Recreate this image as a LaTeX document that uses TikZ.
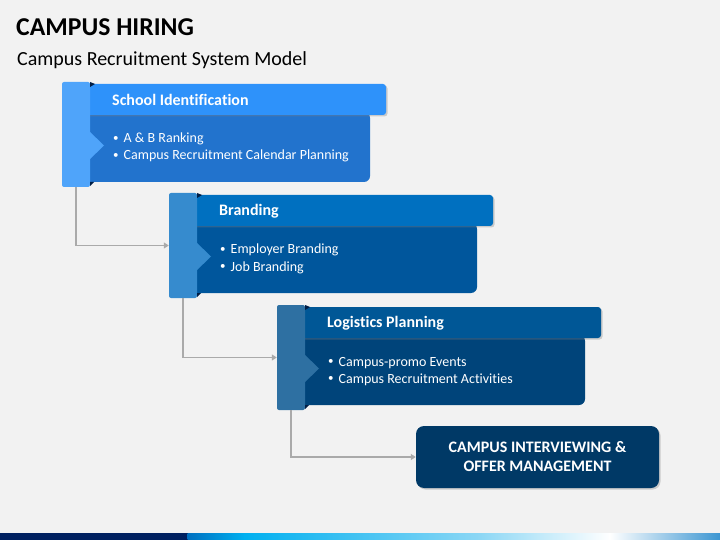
\documentclass[tikz,border=0pt]{standalone}
\usepackage{fontspec}
\setmainfont[Ligatures=CommonOff]{Carlito}
\usetikzlibrary{shadows,arrows.meta}
\definecolor{bg}{RGB}{242,242,242}
\definecolor{tabA}{RGB}{79,164,250}
\definecolor{headA}{RGB}{46,146,250}
\definecolor{bodyA}{RGB}{34,115,205}
\definecolor{tabB}{RGB}{54,139,206}
\definecolor{headB}{RGB}{0,112,192}
\definecolor{bodyB}{RGB}{0,86,156}
\definecolor{tabC}{RGB}{46,112,162}
\definecolor{headC}{RGB}{0,87,150}
\definecolor{bodyC}{RGB}{0,68,122}
\definecolor{finalc}{RGB}{0,57,102}
\definecolor{navyc}{RGB}{0,32,96}
\definecolor{connc}{RGB}{170,170,170}
\definecolor{cornc}{RGB}{0,30,70}
\definecolor{barA}{RGB}{0,112,192}
\definecolor{barB}{RGB}{0,176,240}
\definecolor{barC}{RGB}{140,215,245}
\definecolor{barD}{RGB}{60,150,210}
\newcommand\smallbul{{\fontsize{11}{12}\selectfont\raisebox{1.3pt}{\textbullet}}\hspace{5pt}}
\tikzset{
  tabbox/.style={rectangle, minimum width=28pt, minimum height=105pt, inner sep=0pt, rounded corners=2pt},
  headbar/.style={drop shadow={shadow xshift=1.5pt, shadow yshift=-1.5pt, opacity=0.35}},
  headtxt/.style={anchor=west, inner sep=0pt, text=white, font=\bfseries\fontsize{16}{19}\selectfont},
  bultxt/.style={anchor=base west, inner sep=0pt, text=white, font=\fontsize{14}{17}\selectfont},
  conn/.style={draw=connc, line width=1.2pt, -{Triangle[width=6pt,length=5pt]}},
  finalbox/.style={rectangle, rounded corners=8pt, fill=finalc, minimum width=243pt, minimum height=62pt, text=white, align=center, font=\bfseries\fontsize{16}{19}\selectfont, drop shadow={shadow xshift=1.5pt, shadow yshift=-1.5pt, opacity=0.35}}
}
% #1 dx, #2 dy, #3 tab colour, #4 header colour, #5 body colour, #6 id, #7 header, #8 bullet 1, #9 bullet 2
\newcommand\drawstage[9]{%
\begin{scope}[shift={(#1,#2)}]
  \fill[#5, rounded corners=6pt] (80,112) rectangle (370,182);
  \fill[#4, rounded corners=3pt, headbar] (80,84) rectangle (386,115);
  \node[tabbox, fill=#3] (tab#6) at (76,134.5) {};
  \fill[#3] (89,131) -- (104,145.5) -- (89,160) -- cycle;
  \fill[cornc] (90,82) -- (95,84) -- (90,87) -- cycle;
  \fill[cornc] (90,182) -- (94,182) -- (90,186) -- cycle;
  \node[headtxt] (h#6) at (112,100) {#7};
  \node[bultxt] (b#6a) at (113,143) {\smallbul#8};
  \node[bultxt] (b#6b) at (113,160) {\smallbul#9};
\end{scope}}
\begin{document}
\begin{tikzpicture}[x=1pt,y=-1pt]
\fill[bg] (0,0) rectangle (720,540);
\useasboundingbox (0,0) rectangle (720,540);
\node[anchor=base west, inner sep=0pt, font=\bfseries\fontsize{25.7}{30}\selectfont] (title) at (16,36) {CAMPUS HIRING};
\node[anchor=base west, inner sep=0pt, font=\fontsize{20}{24}\selectfont] (subtitle) at (17,66) {Campus Recruitment System Model};
\drawstage{0}{0}{tabA}{headA}{bodyA}{1}{School Identification}{A \& B Ranking}{Campus Recruitment Calendar Planning}
\drawstage{107}{111}{tabB}{headB}{bodyB}{2}{Branding}{Employer Branding}{Job Branding}
\drawstage{215}{223}{tabC}{headC}{bodyC}{3}{Logistics Planning}{Campus-promo Events}{Campus Recruitment Activities}
\node[finalbox] (final) at (537.5,457) {CAMPUS INTERVIEWING \&\\OFFER MANAGEMENT};
\draw[conn] (tab1.south) |- (tab2.west);
\draw[conn] (tab2.south) |- (tab3.west);
\draw[conn] (tab3.south) |- (final.west);
% bottom bar
\fill[navyc] (0,533) rectangle (188,540);
\shade[left color=barA, right color=barB] (187.5,533) rectangle (245,540);
\shade[left color=barB, right color=barC] (244.5,533) rectangle (480,540);
\shade[left color=barC, right color=white] (479.5,533) rectangle (610,540);
\shade[left color=white, right color=barD] (609.5,533) rectangle (720,540);
\end{tikzpicture}
\end{document}
